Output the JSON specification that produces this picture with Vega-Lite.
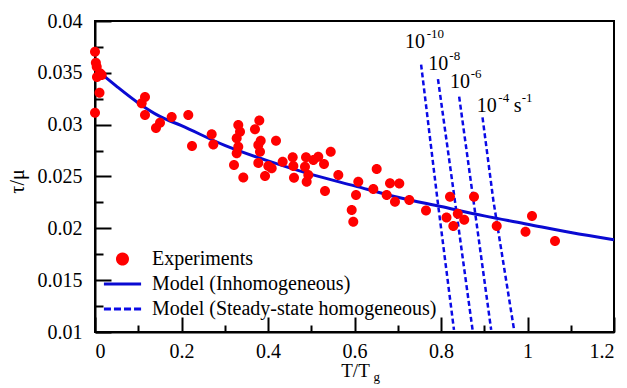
{
  "$schema": "https://vega.github.io/schema/vega-lite/v6.json",
  "width": 519,
  "height": 311,
  "autosize": {"type": "none"},
  "padding": {"left": 95, "top": 21, "right": 13, "bottom": 56},
  "background": "white",
  "config": {
    "view": {"stroke": "black", "strokeWidth": 2},
    "font": "Liberation Serif",
    "axis": {
      "grid": false,
      "labelFont": "Liberation Serif",
      "labelFontSize": 20,
      "labelColor": "black",
      "titleFont": "Liberation Serif",
      "titleColor": "black",
      "titleFontWeight": "normal",
      "domainColor": "black",
      "domainWidth": 2,
      "tickColor": "black",
      "tickWidth": 2
    },
    "legend": {
      "labelFont": "Liberation Serif",
      "labelFontSize": 20,
      "labelColor": "black",
      "labelLimit": 500
    }
  },
  "resolve": {"axis": {"x": "independent", "y": "independent"}},
  "layer": [
    {
      "data": {"values": [
        {"x": 0.015, "y": 0.0349}, {"x": 0.05, "y": 0.0337}, {"x": 0.1, "y": 0.0321},
        {"x": 0.15, "y": 0.0308}, {"x": 0.2, "y": 0.0299}, {"x": 0.3, "y": 0.0280},
        {"x": 0.4, "y": 0.0265}, {"x": 0.5, "y": 0.0252}, {"x": 0.6, "y": 0.0241},
        {"x": 0.7, "y": 0.0230}, {"x": 0.8, "y": 0.0221}, {"x": 0.9, "y": 0.0212},
        {"x": 1.0, "y": 0.0204}, {"x": 1.1, "y": 0.0196}, {"x": 1.2, "y": 0.0189}
      ]},
      "mark": {"type": "line", "color": "#0a0ad2", "strokeWidth": 3, "interpolate": "monotone"},
      "encoding": {
        "x": {"field": "x", "type": "quantitative",
          "scale": {"domain": [0, 1.2], "nice": false, "zero": false},
          "axis": {"orient": "bottom", "values": [0, 0.2, 0.4, 0.6, 0.8, 1, 1.2], "format": "~g",
            "tickSize": -15, "labelPadding": 24, "title": "T/T", "titleFontSize": 19,
            "titleX": 260, "titleY": 44, "titleBaseline": "alphabetic", "titleAlign": "center"}},
        "y": {"field": "y", "type": "quantitative",
          "scale": {"domain": [0.01, 0.04], "nice": false, "zero": false},
          "axis": {"orient": "left", "values": [0.01, 0.015, 0.02, 0.025, 0.03, 0.035, 0.04], "format": "~g",
            "tickSize": -16, "labelPadding": 29, "title": "τ/μ", "titleFontSize": 20,
            "titleX": -78, "titleY": 160, "titleAngle": -90, "titleAlign": "center", "titleBaseline": "middle"}}
      }
    },
    {
      "data": {"values": [
        {"rate": "1e-10", "x": 0.754, "y": 0.0358}, {"rate": "1e-10", "x": 0.792, "y": 0.0227}, {"rate": "1e-10", "x": 0.830, "y": 0.0102},
        {"rate": "1e-8", "x": 0.793, "y": 0.0344}, {"rate": "1e-8", "x": 0.832, "y": 0.0227}, {"rate": "1e-8", "x": 0.873, "y": 0.0102},
        {"rate": "1e-6", "x": 0.842, "y": 0.0327}, {"rate": "1e-6", "x": 0.875, "y": 0.0227}, {"rate": "1e-6", "x": 0.916, "y": 0.0102},
        {"rate": "1e-4", "x": 0.896, "y": 0.0307}, {"rate": "1e-4", "x": 0.921, "y": 0.0227}, {"rate": "1e-4", "x": 0.969, "y": 0.0102}
      ]},
      "mark": {"type": "line", "color": "#0a0ae6", "strokeWidth": 2.5, "strokeDash": [5, 3]},
      "encoding": {
        "x": {"field": "x", "type": "quantitative", "axis": null},
        "y": {"field": "y", "type": "quantitative", "axis": null},
        "detail": {"field": "rate"}
      }
    },
    {
      "data": {"values": [
        {"x": 0, "y": 0.03704}, {"x": 0.002, "y": 0.03598}, {"x": 0.004, "y": 0.03559},
        {"x": 0.0116, "y": 0.03496}, {"x": 0.0046, "y": 0.0346}, {"x": 0.0155, "y": 0.03479},
        {"x": 0.0104, "y": 0.03308}, {"x": 0, "y": 0.03115}, {"x": 0.1156, "y": 0.03267},
        {"x": 0.1079, "y": 0.03206}, {"x": 0.1156, "y": 0.03093}, {"x": 0.1503, "y": 0.03019},
        {"x": 0.141, "y": 0.02968}, {"x": 0.1773, "y": 0.03074}, {"x": 0.2157, "y": 0.03093},
        {"x": 0.2698, "y": 0.02907}, {"x": 0.2243, "y": 0.02794}, {"x": 0.2736, "y": 0.02809},
        {"x": 0.3313, "y": 0.02997}, {"x": 0.3353, "y": 0.02932}, {"x": 0.3276, "y": 0.02869},
        {"x": 0.3313, "y": 0.02787}, {"x": 0.3276, "y": 0.02724}, {"x": 0.3214, "y": 0.02611},
        {"x": 0.3429, "y": 0.0249}, {"x": 0.3799, "y": 0.0304}, {"x": 0.3699, "y": 0.02955},
        {"x": 0.3831, "y": 0.02845}, {"x": 0.3776, "y": 0.02804}, {"x": 0.3815, "y": 0.02739},
        {"x": 0.3776, "y": 0.0263}, {"x": 0.3931, "y": 0.02505}, {"x": 0.4185, "y": 0.02845},
        {"x": 0.4007, "y": 0.02601}, {"x": 0.4085, "y": 0.02579}, {"x": 0.4339, "y": 0.02643},
        {"x": 0.4571, "y": 0.02685}, {"x": 0.4586, "y": 0.02601}, {"x": 0.4601, "y": 0.02488},
        {"x": 0.4879, "y": 0.02685}, {"x": 0.4855, "y": 0.02595}, {"x": 0.4894, "y": 0.0245},
        {"x": 0.4932, "y": 0.02514}, {"x": 0.5049, "y": 0.02659}, {"x": 0.5163, "y": 0.02691},
        {"x": 0.5295, "y": 0.02621}, {"x": 0.545, "y": 0.02739}, {"x": 0.5626, "y": 0.02514},
        {"x": 0.5318, "y": 0.0236}, {"x": 0.6088, "y": 0.0245}, {"x": 0.6035, "y": 0.02322},
        {"x": 0.5935, "y": 0.02177}, {"x": 0.5972, "y": 0.02064}, {"x": 0.6513, "y": 0.02572},
        {"x": 0.6435, "y": 0.0238}, {"x": 0.6744, "y": 0.02322}, {"x": 0.6821, "y": 0.02434},
        {"x": 0.7036, "y": 0.02433}, {"x": 0.6936, "y": 0.02257}, {"x": 0.7267, "y": 0.02273},
        {"x": 0.7653, "y": 0.02172}, {"x": 0.8208, "y": 0.02305}, {"x": 0.8763, "y": 0.02305},
        {"x": 0.8127, "y": 0.02105}, {"x": 0.8388, "y": 0.02141}, {"x": 0.8285, "y": 0.02023},
        {"x": 0.8537, "y": 0.02083}, {"x": 0.9288, "y": 0.02023}, {"x": 0.9954, "y": 0.01968},
        {"x": 1.0104, "y": 0.02119}, {"x": 1.0636, "y": 0.01878}
      ]},
      "transform": [{"calculate": "'Experiments'", "as": "series"}],
      "mark": {"type": "point", "filled": true, "opacity": 1, "size": 100, "strokeWidth": 0},
      "encoding": {
        "x": {"field": "x", "type": "quantitative", "axis": null},
        "y": {"field": "y", "type": "quantitative", "axis": null},
        "color": {"field": "series", "type": "nominal",
          "scale": {"domain": ["Experiments", "Model (Inhomogeneous)", "Model (Steady-state homogeneous)"],
                    "range": ["#ff0000", "#0a0ad2", "#0a0ae6"]},
          "legend": {"orient": "none", "legendX": 17.5, "legendY": 228, "title": null,
            "symbolSize": 170, "symbolStrokeWidth": 0, "labelOffset": 19.5, "rowPadding": 5,
            "padding": 0, "labelLimit": 500}},
        "shape": {"field": "series", "type": "nominal",
          "scale": {"domain": ["Experiments", "Model (Inhomogeneous)", "Model (Steady-state homogeneous)"],
                    "range": ["M-1,0A1,1 0 1,1 1,0A1,1 0 1,1 -1,0Z",
                              "M-2.85,-0.23H2.85V0.23H-2.85Z",
                              "M-2.85,-0.23H-1.77V0.23H-2.85Z M-1.31,-0.23H-0.23V0.23H-1.31Z M0.23,-0.23H1.31V0.23H0.23Z M1.77,-0.23H2.85V0.23H1.77Z"]},
          "legend": {"orient": "none", "legendX": 17.5, "legendY": 228, "title": null,
            "symbolSize": 170, "symbolStrokeWidth": 0, "labelOffset": 19.5, "rowPadding": 5,
            "padding": 0, "labelLimit": 500}}
      }
    },
    {
      "data": {"values": [
        {"label": "10", "x": 0.7168, "y": 0.03737},
        {"label": "10", "x": 0.7707, "y": 0.03527},
        {"label": "10", "x": 0.8208, "y": 0.03351},
        {"label": "10", "x": 0.8825, "y": 0.03125},
        {"label": "s", "x": 0.968, "y": 0.03125}
      ]},
      "mark": {"type": "text", "align": "left", "baseline": "alphabetic", "font": "Liberation Serif", "fontSize": 20, "color": "black"},
      "encoding": {
        "x": {"field": "x", "type": "quantitative",
          "axis": {"orient": "bottom", "values": [0.1, 0.3, 0.5, 0.7, 0.9, 1.1], "labels": false, "domain": false,
            "tickSize": -7, "title": "g", "titleFontSize": 13, "titleX": 278, "titleY": 48,
            "titleAlign": "left", "titleBaseline": "alphabetic"}},
        "y": {"field": "y", "type": "quantitative",
          "axis": {"orient": "left", "values": [0.0125, 0.0175, 0.0225, 0.0275, 0.0325, 0.0375], "labels": false,
            "domain": false, "tickSize": -8, "title": null}},
        "text": {"field": "label"}
      }
    },
    {
      "data": {"values": [
        {"label": "-10", "x": 0.7669, "y": 0.03833},
        {"label": "-8", "x": 0.8193, "y": 0.03624},
        {"label": "-6", "x": 0.8686, "y": 0.03447},
        {"label": "-4", "x": 0.9326, "y": 0.03222},
        {"label": "-1", "x": 0.9865, "y": 0.03222}
      ]},
      "mark": {"type": "text", "align": "left", "baseline": "alphabetic", "font": "Liberation Serif", "fontSize": 13, "color": "black"},
      "encoding": {
        "x": {"field": "x", "type": "quantitative", "axis": null},
        "y": {"field": "y", "type": "quantitative", "axis": null},
        "text": {"field": "label"}
      }
    }
  ]
}
